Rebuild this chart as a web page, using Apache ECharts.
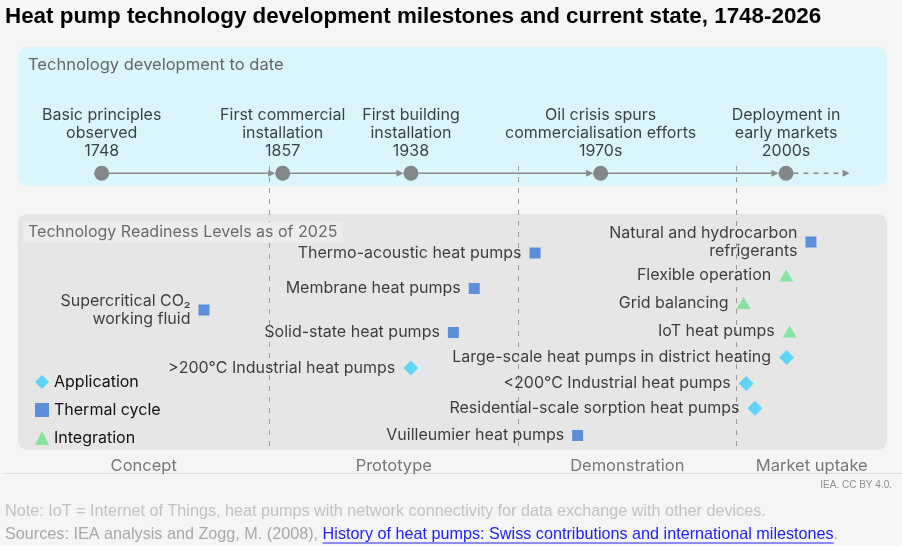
<!DOCTYPE html>
<html><head><meta charset="utf-8">
<script src="https://cdn.jsdelivr.net/npm/echarts@6/dist/echarts.min.js"></script>
<style>html,body{margin:0;padding:0;background:#f5f5f5;}#c{width:902px;height:546px;}</style>
</head><body><div id="c"></div>
<script>
// ---- data ----
const milestoneText = ['Basic principles\nobserved', 'First commercial\ninstallation', 'First building\ninstallation', 'Oil crisis spurs\ncommercialisation efforts', 'Deployment in\nearly markets'];
const milestoneYears = ['1748', '1857', '1938', '1970s', '2000s'];
const milestonePos = [0.963, 3.046, 4.522, 6.705, 8.838];
const timelineRow = 12.63;
const futurePos = 9.57;

const phaseNames = ['Concept', 'Prototype', 'Demonstration', 'Market uptake'];
const phaseBounds = [0, 2.894, 5.754, 8.268, 10];

const applicationNames = ['>200°C Industrial heat pumps', 'Large-scale heat pumps in district heating', '<200°C Industrial heat pumps', 'Residential-scale sorption heat pumps'];
const applicationPos = [4.52, 8.845, 8.38, 8.48];
const applicationRow = [32.1, 31.05, 33.65, 36.13];

const thermalNames = ['Thermo-acoustic heat pumps', 'Membrane heat pumps', 'Solid-state heat pumps', 'Supercritical CO₂\nworking fluid', 'Natural and hydrocarbon\nrefrigerants', 'Vuilleumier heat pumps'];
const thermalPos = [5.95, 5.25, 5.01, 2.14, 9.125, 6.44];
const thermalRow = [20.6, 24.15, 28.55, 26.3, 19.5, 38.85];

const integrationNames = ['Flexible operation', 'Grid balancing', 'IoT heat pumps'];
const integrationPos = [8.84, 8.35, 8.88];
const integrationRow = [22.85, 25.6, 28.45];

// ---- chart ----
const FONT = 'Inter';
const FS = 16;
const TXT = '#111111';
const chart = echarts.init(document.getElementById('c'), null, {renderer: 'canvas'});

const zipItems = (names, xs, ys) => names.map((n, i) => ({name: n, value: [xs[i], ys[i]]}));

const segments = [];
for (let i = 0; i < milestonePos.length - 1; i++) segments.push([milestonePos[i], milestonePos[i + 1], timelineRow, 0]);
segments.push([milestonePos[milestonePos.length - 1], futurePos, timelineRow, 1]);

const phaseLabelData = phaseNames.map((n, i) => ({name: n, value: [(phaseBounds[i] + phaseBounds[i + 1]) / 2, 41.87]}));
const boundaryLines = phaseBounds.slice(1, -1).map(b => [{coord: [b, 11.9]}, {coord: [b, 40.3]}]);

function itemLabel() {
  return {show: true, position: 'left', distance: 8, formatter: p => p.name, color: TXT, fontSize: FS, fontFamily: FONT, lineHeight: 18, align: 'right'};
}

// measure text for link underline
const SRC_FONT = '16.2px "Liberation Sans"';
const mctx = document.createElement('canvas').getContext('2d');
mctx.font = SRC_FONT;
const srcPrefix = 'Sources: IEA analysis and Zogg, M. (2008), ';
const srcLink = 'History of heat pumps: Swiss contributions and international milestones';
const prefW = mctx.measureText(srcPrefix).width;
const linkW = mctx.measureText(srcLink).width;

const option = {
  backgroundColor: '#f5f5f5',
  animation: false,
  grid: {left: 18, right: 15, top: 47, bottom: 73},
  xAxis: {type: 'value', min: 0, max: 10, show: false},
  yAxis: {type: 'value', min: 0, max: 42.6, inverse: true, show: false},
  legend: {
    orient: 'vertical', left: 30, top: 369, itemWidth: 14, itemHeight: 14, itemGap: 12,
    selectedMode: false,
    textStyle: {fontSize: FS, color: TXT, fontFamily: FONT},
    data: [{name: 'Application', icon: 'diamond'}, {name: 'Thermal cycle', icon: 'rect'}, {name: 'Integration', icon: 'triangle'}]
  },
  graphic: [
    {type: 'text', left: 5, top: 6, z: 10, style: {text: 'Heat pump technology development milestones and current state, 1748-2026', font: 'bold 22.4px "Liberation Sans"', fill: '#000'}},
    {type: 'rect', shape: {x: 18, y: 47, width: 869, height: 139, r: 9}, style: {fill: '#dbf5fd'}, z: -10},
    {type: 'text', x: 28, y: 65, z: 10, style: {text: 'Technology development to date', font: '16.5px Inter', fill: '#666666', verticalAlign: 'middle'}},
    {type: 'rect', shape: {x: 18, y: 214, width: 869, height: 236, r: 9}, style: {fill: '#e6e6e6'}, z: -10},
    {type: 'rect', shape: {x: 23, y: 222, width: 320, height: 21}, style: {fill: '#ededed'}, z: 20},
    {type: 'text', x: 28, y: 232.5, z: 21, style: {text: 'Technology Readiness Levels as of 2025', font: '16px Inter', fill: '#6a6a6a', verticalAlign: 'middle'}},
    {type: 'line', shape: {x1: 3, y1: 473.5, x2: 902, y2: 473.5}, style: {stroke: '#dedede', lineWidth: 1}, z: -5},
    {type: 'text', x: 892, y: 485, z: 10, style: {text: 'IEA. CC BY 4.0.', font: '10px "Liberation Sans"', fill: '#8f8f8f', align: 'right', verticalAlign: 'middle'}},
    {type: 'text', x: 5, y: 512, z: 10, style: {text: 'Note: IoT = Internet of Things, heat pumps with network connectivity for data exchange with other devices.', font: SRC_FONT, fill: '#c2c2c2', verticalAlign: 'middle'}},
    {type: 'text', x: 5, y: 535, z: 10, style: {text: srcPrefix, font: SRC_FONT, fill: '#a8a8a8', verticalAlign: 'middle'}},
    {type: 'text', x: 5 + prefW, y: 535, z: 10, style: {text: srcLink, font: SRC_FONT, fill: '#2222ee', verticalAlign: 'middle'}},
    {type: 'line', shape: {x1: 5 + prefW, y1: 543, x2: 5 + prefW + linkW, y2: 543}, style: {stroke: '#2222ee', lineWidth: 1}, z: 10},
    {type: 'text', x: 5 + prefW + linkW, y: 535, z: 10, style: {text: '.', font: SRC_FONT, fill: '#a8a8a8', verticalAlign: 'middle'}}
  ],
  series: [
    {
      type: 'custom', name: 'timeline', silent: true, z: 3,
      encode: {x: [0, 1], y: 2},
      data: segments,
      renderItem: (params, api) => {
        const s = api.coord([api.value(0), api.value(2)]);
        const e = api.coord([api.value(1), api.value(2)]);
        const dashed = api.value(3) === 1;
        const r = 7.5;
        const x1 = s[0] + r;
        const x2 = dashed ? e[0] : e[0] - r;
        const ah = 7, aw = 3.5, y = s[1];
        return {type: 'group', children: [
          {type: 'line', shape: {x1: x1, y1: y, x2: x2 - ah + 1, y2: y}, style: {stroke: '#8a8a8a', lineWidth: 1.5, lineDash: dashed ? [5, 5] : null}},
          {type: 'polygon', shape: {points: [[x2, y], [x2 - ah, y - aw], [x2 - ah, y + aw]]}, style: {fill: '#8a8a8a'}}
        ]};
      }
    },
    {
      type: 'scatter', name: 'milestones', silent: true, z: 4,
      symbol: 'circle', symbolSize: 15,
      itemStyle: {color: '#6b6b6b'},
      data: milestonePos.map((p, i) => ({name: milestoneText[i] + '\n' + milestoneYears[i], value: [p, timelineRow]})),
      label: {show: true, position: 'top', distance: 6, formatter: p => p.name, color: TXT, fontSize: FS, fontFamily: FONT, lineHeight: 18, align: 'center'},
      markLine: {
        silent: true, symbol: 'none', animation: false,
        label: {show: false},
        lineStyle: {color: '#9a9a9a', width: 1, type: [5, 6]},
        data: boundaryLines
      }
    },
    {
      type: 'custom', name: 'phases', silent: true,
      encode: {x: 0, y: 1},
      data: phaseLabelData,
      renderItem: (params, api) => {
        const c = api.coord([api.value(0), api.value(1)]);
        return {type: 'text', x: c[0], y: c[1], style: {text: phaseNames[params.dataIndex], align: 'center', verticalAlign: 'middle', font: '16.5px Inter', fill: '#777777'}};
      }
    },
    {
      type: 'scatter', name: 'Application', z: 5, silent: true,
      symbol: 'diamond', symbolSize: [15, 15],
      itemStyle: {color: '#3fcffc'},
      data: zipItems(applicationNames, applicationPos, applicationRow),
      label: itemLabel()
    },
    {
      type: 'scatter', name: 'Thermal cycle', z: 5, silent: true,
      symbol: 'rect', symbolSize: [11, 11],
      itemStyle: {color: '#3a78d8'},
      data: zipItems(thermalNames, thermalPos, thermalRow),
      label: itemLabel()
    },
    {
      type: 'scatter', name: 'Integration', z: 5, silent: true,
      symbol: 'triangle', symbolSize: [14, 12],
      itemStyle: {color: '#6ee48e'},
      data: zipItems(integrationNames, integrationPos, integrationRow),
      label: itemLabel()
    }
  ]
};
chart.setOption(option);
</script>
</body></html>
